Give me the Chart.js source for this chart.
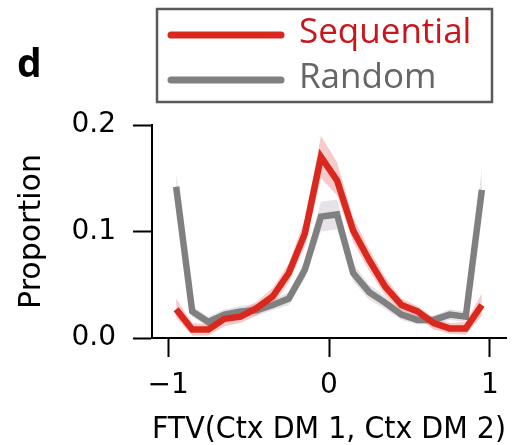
<!DOCTYPE html>
<html>
<head>
<meta charset="utf-8">
<script src="https://cdn.jsdelivr.net/npm/chart.js@4"></script>
<style>
  html, body { margin: 0; padding: 0; background: #fff; }
  canvas { display: block; }
</style>
</head>
<body>
<canvas id="ftv" width="520" height="445"></canvas>
<script>
// bin centres of the FTV histogram
const binCenters = [-0.95, -0.85, -0.75, -0.65, -0.55, -0.45, -0.35, -0.25, -0.15, -0.05,
                    0.05, 0.15, 0.25, 0.35, 0.45, 0.55, 0.65, 0.75, 0.85, 0.95];

const sequential = [0.027, 0.008, 0.008, 0.018, 0.020, 0.028, 0.039, 0.061, 0.098, 0.170,
                    0.148, 0.101, 0.073, 0.048, 0.031, 0.025, 0.014, 0.009, 0.009, 0.031];
const sequentialHi = [0.037, 0.014, 0.013, 0.023, 0.026, 0.034, 0.047, 0.070, 0.112, 0.190,
                      0.165, 0.113, 0.083, 0.057, 0.037, 0.030, 0.019, 0.014, 0.015, 0.042];
const sequentialLo = [0.019, 0.002, 0.002, 0.011, 0.014, 0.021, 0.031, 0.052, 0.086, 0.150,
                      0.134, 0.090, 0.063, 0.040, 0.025, 0.019, 0.008, 0.004, 0.003, 0.021];

const random = [0.142, 0.025, 0.015, 0.022, 0.025, 0.026, 0.031, 0.037, 0.064, 0.114,
                0.116, 0.061, 0.043, 0.033, 0.022, 0.017, 0.017, 0.022, 0.020, 0.139];
const randomHi = [0.155, 0.030, 0.020, 0.027, 0.030, 0.032, 0.036, 0.043, 0.072, 0.128,
                  0.130, 0.070, 0.050, 0.039, 0.027, 0.021, 0.021, 0.027, 0.025, 0.160];
const randomLo = [0.132, 0.020, 0.010, 0.017, 0.020, 0.021, 0.026, 0.031, 0.056, 0.100,
                  0.102, 0.053, 0.036, 0.027, 0.017, 0.013, 0.013, 0.017, 0.015, 0.130];

const xTicks = [-1, 0, 1];
const yTicks = [0, 0.1, 0.2];
const legendLabels = ["Sequential", "Random"];

const RED = "#d9281e";
const GREY = "#808080";
const AXIS_FONT = { family: "DejaVu Sans", size: 28 };

function pts(ys) {
  return binCenters.map((x, i) => ({ x, y: ys[i] }));
}

function line(label, ys, color, order) {
  return {
    label, data: pts(ys), borderColor: color, borderWidth: 6.5,
    pointRadius: 0, fill: false, tension: 0, order,
    borderJoinStyle: "miter", borderCapStyle: "butt",
  };
}

function band(ys, fill, color, order) {
  return {
    data: pts(ys), borderWidth: 0, borderColor: "rgba(0,0,0,0)",
    backgroundColor: color, pointRadius: 0, fill, tension: 0, order,
  };
}

// legend box + panel letter drawn on top of the canvas
const extras = {
  id: "extras",
  afterDraw(chart) {
    const ctx = chart.ctx;
    ctx.save();
    ctx.strokeStyle = "#5a5a5a";
    ctx.lineWidth = 2.5;
    ctx.strokeRect(157, 9, 335, 93);

    ctx.lineCap = "round";
    ctx.lineWidth = 7;
    const rows = [
      { y: 35, color: RED, text: "#c8161d" },
      { y: 80, color: GREY, text: "#666" },
    ];
    rows.forEach((r, i) => {
      ctx.strokeStyle = r.color;
      ctx.beginPath();
      ctx.moveTo(171, r.y);
      ctx.lineTo(281, r.y);
      ctx.stroke();
      ctx.fillStyle = r.text;
      ctx.font = "35px 'Open Sans'";
      ctx.textBaseline = "middle";
      ctx.textAlign = "left";
      ctx.fillText(legendLabels[i], 299, r.y - 2);
    });

    ctx.fillStyle = "#000";
    ctx.font = "bold 39px 'Open Sans'";
    ctx.textBaseline = "alphabetic";
    ctx.fillText("d", 17, 77);
    ctx.restore();
  },
};

new Chart(document.getElementById("ftv"), {
  type: "line",
  data: {
    datasets: [
      line("Sequential", sequential, RED, 0),
      line("Random", random, GREY, 1),
      band(sequentialHi, "+1", "rgba(238, 130, 130, 0.42)", 2),
      band(sequentialLo, false, "rgba(0,0,0,0)", 3),
      band(randomHi, "+1", "rgba(200, 190, 205, 0.45)", 4),
      band(randomLo, false, "rgba(0,0,0,0)", 5),
    ],
  },
  options: {
    responsive: false,
    animation: false,
    devicePixelRatio: 1,
    layout: { padding: { top: 125, right: 14, left: 0, bottom: 0 } },
    plugins: {
      legend: { display: false },
      tooltip: { enabled: false },
    },
    scales: {
      x: {
        type: "linear",
        min: -1.1,
        max: 1.1,
        afterBuildTicks: (s) => { s.ticks = xTicks.map((v) => ({ value: v })); },
        afterFit: (s) => { s.height = 107; },
        ticks: {
          font: AXIS_FONT, color: "#000", padding: 12, maxRotation: 0, autoSkip: false,
          callback: (v) => (v < 0 ? "\u2212" + Math.abs(v) : String(v)),
        },
        grid: { drawOnChartArea: false, drawTicks: true, tickLength: 19, tickWidth: 2, tickColor: "#000" },
        border: { display: true, color: "#000", width: 2 },
        title: {
          display: true, text: "FTV(Ctx DM 1, Ctx DM 2)", color: "#000",
          font: { family: "DejaVu Sans", size: 30, lineHeight: 1 }, padding: { top: 0, bottom: 0 },
        },
      },
      y: {
        min: 0,
        max: 0.2,
        afterBuildTicks: (s) => { s.ticks = yTicks.map((v) => ({ value: v })); },
        afterFit: (s) => { s.width = 152; },
        ticks: {
          font: AXIS_FONT, color: "#000", padding: 17,
          callback: (v) => v.toFixed(1),
        },
        grid: { drawOnChartArea: false, drawTicks: true, tickLength: 19, tickWidth: 2, tickColor: "#000" },
        border: { display: true, color: "#000", width: 2 },
        title: {
          display: true, text: "Proportion", color: "#000",
          font: { family: "DejaVu Sans", size: 30, lineHeight: 1 }, padding: { top: 17, bottom: 0 },
        },
      },
    },
  },
  plugins: [extras],
});
</script>
</body>
</html>
